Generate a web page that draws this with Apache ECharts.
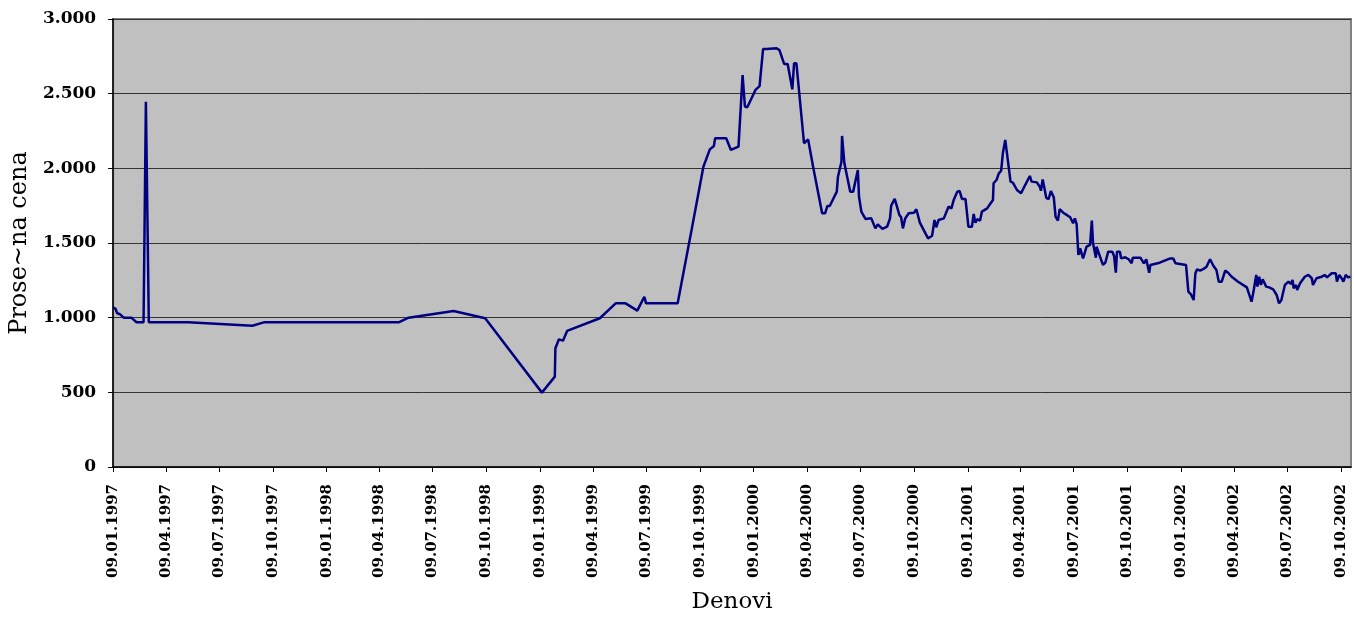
<!DOCTYPE html>
<html><head><meta charset="utf-8">
<script src="https://cdn.jsdelivr.net/npm/echarts@6/dist/echarts.min.js"></script>
<style>html,body{margin:0;padding:0;background:#fff}#c{width:1354px;height:619px}</style>
</head><body><div id="c"></div>
<script>
const dates = [
'1997-01-09','1997-01-13','1997-01-16','1997-01-20','1997-01-27','1997-02-09','1997-02-18','1997-03-02','1997-03-06','1997-03-11',
'1997-05-17','1997-09-04','1997-09-25','1998-05-13','1998-05-29','1998-08-14','1998-10-07','1999-01-12','1999-02-03','1999-02-04',
'1999-02-10','1999-02-17','1999-02-24','1999-04-21','1999-05-18','1999-06-04','1999-06-24','1999-07-06','1999-07-09','1999-09-01',
'1999-09-25','1999-10-15','1999-10-26','1999-11-02','1999-11-04','1999-11-23','1999-12-01','1999-12-14','1999-12-16','1999-12-21',
'1999-12-25','1999-12-29','2000-01-12','2000-01-19','2000-01-25','2000-01-31','2000-02-17','2000-02-22','2000-03-01','2000-03-07',
'2000-03-15','2000-03-18','2000-03-22','2000-04-04','2000-04-11','2000-04-20','2000-05-05','2000-05-10','2000-05-14','2000-05-18',
'2000-05-30','2000-06-01','2000-06-07','2000-06-08','2000-06-12','2000-06-22','2000-06-27','2000-07-05','2000-07-07','2000-07-11',
'2000-07-18','2000-07-28','2000-08-04','2000-08-08','2000-08-16','2000-08-24','2000-08-29','2000-08-31','2000-09-06','2000-09-14',
'2000-09-17','2000-09-20','2000-09-24','2000-09-30','2000-10-09','2000-10-13','2000-10-19','2000-11-02','2000-11-09','2000-11-13',
'2000-11-16','2000-11-20','2000-11-29','2000-12-07','2000-12-12','2000-12-16','2000-12-22','2000-12-26','2000-12-30','2001-01-05',
'2001-01-10','2001-01-16','2001-01-19','2001-01-22','2001-01-25','2001-01-30','2001-02-02','2001-02-11','2001-02-17','2001-02-21',
'2001-02-22','2001-02-27','2001-03-03','2001-03-07','2001-03-10','2001-03-14','2001-03-23','2001-03-27','2001-04-03','2001-04-10',
'2001-04-17','2001-04-25','2001-04-28','2001-05-07','2001-05-12','2001-05-14','2001-05-17','2001-05-23','2001-05-27','2001-05-31',
'2001-06-05','2001-06-08','2001-06-12','2001-06-15','2001-06-21','2001-06-27','2001-07-03','2001-07-08','2001-07-11','2001-07-14',
'2001-07-17','2001-07-20','2001-07-25','2001-07-31','2001-08-06','2001-08-09','2001-08-11','2001-08-14','2001-08-16','2001-08-17',
'2001-08-28','2001-09-01','2001-09-06','2001-09-13','2001-09-16','2001-09-19','2001-09-21','2001-09-26','2001-09-28','2001-10-05',
'2001-10-11','2001-10-16','2001-10-18','2001-10-31','2001-11-06','2001-11-10','2001-11-15','2001-11-17','2001-12-03','2001-12-21',
'2001-12-26','2001-12-30','2002-01-17','2002-01-21','2002-01-25','2002-01-30','2002-02-02','2002-02-05','2002-02-10','2002-02-16',
'2002-02-21','2002-02-27','2002-03-05','2002-03-10','2002-03-14','2002-03-19','2002-03-25','2002-03-30','2002-04-05','2002-04-16',
'2002-05-01','2002-05-09','2002-05-13','2002-05-17','2002-05-19','2002-05-22','2002-05-25','2002-05-28','2002-06-03','2002-06-08',
'2002-06-15','2002-06-21','2002-06-25','2002-06-29','2002-07-05','2002-07-11','2002-07-15','2002-07-18','2002-07-20','2002-07-24',
'2002-07-26','2002-07-31','2002-08-08','2002-08-14','2002-08-20','2002-08-22','2002-08-28','2002-09-06','2002-09-11','2002-09-15',
'2002-09-23','2002-09-30','2002-10-02','2002-10-06','2002-10-10','2002-10-13','2002-10-17','2002-10-21','2002-10-25'
];
const prices = [
1067,1060,1029,1025,1000,1000,969,969,2446,970,
970,946,970,970,1000,1045,996,498,605,795,
855,846,911,996,1096,1096,1047,1140,1096,1096,
1592,2011,2127,2150,2201,2201,2123,2145,2145,2625,
2413,2409,2525,2551,2799,2799,2804,2792,2699,2699,
2529,2703,2703,2168,2194,2000,1699,1699,1748,1748,
1844,1944,2044,2217,2034,1844,1844,1989,1810,1710,
1661,1665,1598,1625,1594,1609,1665,1750,1795,1688,
1672,1598,1665,1699,1703,1726,1636,1531,1549,1654,
1605,1654,1665,1743,1732,1790,1844,1848,1795,1795,
1609,1609,1694,1636,1659,1650,1710,1732,1766,1788,
1900,1922,1966,1984,2105,2190,1911,1904,1855,1833,
1888,1949,1911,1906,1877,1850,1926,1804,1793,1848,
1804,1676,1650,1726,1703,1688,1672,1632,1665,1627,
1420,1464,1397,1475,1487,1650,1498,1509,1402,1475,
1353,1368,1442,1442,1413,1301,1442,1442,1397,1404,
1391,1364,1402,1402,1364,1391,1301,1353,1368,1397,
1397,1364,1353,1174,1158,1118,1297,1324,1315,1326,
1341,1391,1346,1319,1241,1241,1315,1301,1274,1241,
1203,1107,1190,1286,1208,1274,1219,1257,1208,1203,
1190,1152,1096,1118,1219,1241,1226,1252,1197,1219,
1185,1230,1274,1286,1264,1219,1264,1274,1286,1270,
1297,1297,1241,1286,1264,1241,1286,1270,1274
];
const tickDates = [
'1997-01-09','1997-04-09','1997-07-09','1997-10-09','1998-01-09','1998-04-09','1998-07-09','1998-10-09',
'1999-01-09','1999-04-09','1999-07-09','1999-10-09','2000-01-09','2000-04-09','2000-07-09','2000-10-09',
'2001-01-09','2001-04-09','2001-07-09','2001-10-09','2002-01-09','2002-04-09','2002-07-09','2002-10-09'
];
const axisStart = '1997-01-09';
const axisEnd = '2002-10-26';
const yAxisTitle = 'Prose~na cena';
const xAxisTitle = 'Denovi';

function ts(s){const p=s.split('-').map(Number);return Date.UTC(p[0],p[1]-1,p[2]);}
function fmtDate(v){const d=new Date(v);const p=n=>String(n).padStart(2,'0');return p(d.getUTCDate())+'.'+p(d.getUTCMonth()+1)+'.'+d.getUTCFullYear();}
function fmtNum(v){if(v>=1000){return Math.floor(v/1000)+'.'+String(v%1000).padStart(3,'0');}return String(v);}

const tickVals = tickDates.map(ts);
const seriesData = dates.map((d,i)=>[ts(d),prices[i]]);
const FONT = 'DejaVu Serif';

const chart = echarts.init(document.getElementById('c'));
chart.setOption({
  animation:false,
  backgroundColor:'#ffffff',
  grid:{left:112,right:3,top:19,bottom:152,show:true,backgroundColor:'#c0c0c0',borderColor:'#808080',borderWidth:2},
  xAxis:{
    type:'value', min:ts(axisStart), max:ts(axisEnd), scale:true,
    name:xAxisTitle, nameLocation:'middle', nameGap:124,
    nameTextStyle:{fontFamily:FONT,fontSize:23,color:'#000'},
    axisLine:{show:true,onZero:false,lineStyle:{color:'#000',width:1.5}},
    axisTick:{show:true,length:5,inside:false,customValues:tickVals,lineStyle:{color:'#000'}},
    axisLabel:{customValues:tickVals,rotate:90,margin:17,formatter:fmtDate,fontFamily:FONT,fontSize:15,fontWeight:'bold',color:'#000'},
    splitLine:{show:false}
  },
  yAxis:{
    type:'value', min:0, max:3000, interval:500,
    name:yAxisTitle, nameLocation:'middle', nameGap:80,
    nameTextStyle:{fontFamily:FONT,fontSize:24,color:'#000'},
    axisLine:{show:true,lineStyle:{color:'#000',width:1.5}},
    axisTick:{show:true,length:5,inside:false,lineStyle:{color:'#000'}},
    axisLabel:{margin:17,formatter:fmtNum,fontFamily:FONT,fontSize:17,fontWeight:'bold',color:'#000'},
    splitLine:{show:true,lineStyle:{color:'#333',width:1}}
  },
  series:[{type:'line',data:seriesData,showSymbol:false,symbol:'none',lineStyle:{color:'#000080',width:2.5},itemStyle:{color:'#000080'}}]
});
</script></body></html>
